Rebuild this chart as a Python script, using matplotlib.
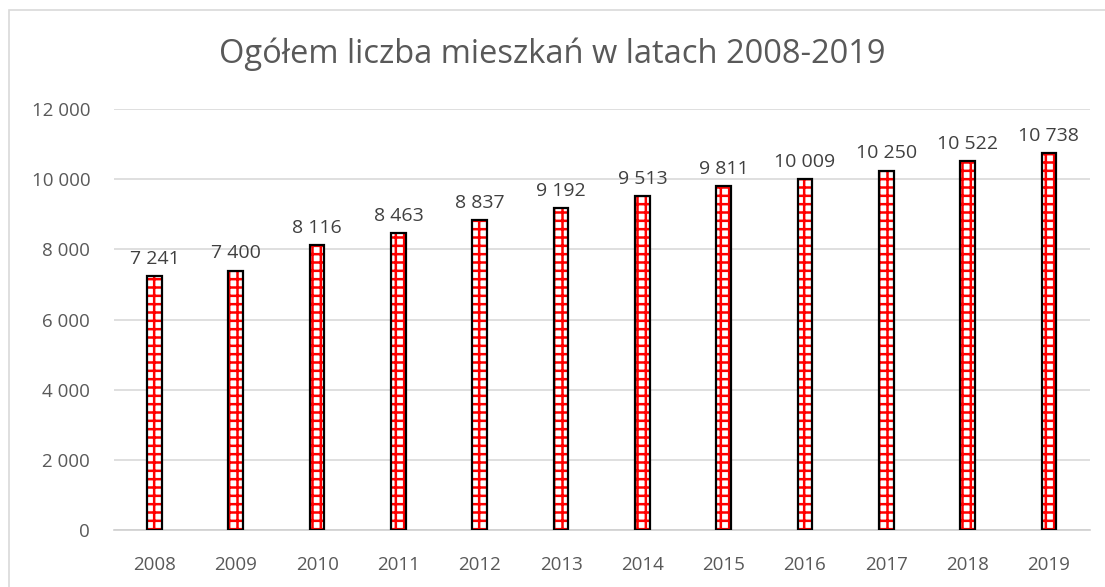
import matplotlib
matplotlib.use("Agg")
import matplotlib.pyplot as plt
from matplotlib.patches import Rectangle

years = ["2008", "2009", "2010", "2011", "2012", "2013",
         "2014", "2015", "2016", "2017", "2018", "2019"]
values = [7241, 7400, 8116, 8463, 8837, 9192, 9513, 9811, 10009, 10250, 10522, 10738]
yticks = [0, 2000, 4000, 6000, 8000, 10000, 12000]

plt.rcParams['font.family'] = ['Open Sans', 'DejaVu Sans']
plt.rcParams['hatch.linewidth'] = 1.8

def fmt(v):
    return f"{v:,}".replace(",", " ")

fig = plt.figure(figsize=(11.05, 5.87), dpi=100)
ax = fig.add_axes([0.103, 0.097, 0.883, 0.717])

x = list(range(len(years)))
# hatch layer (red) then outline (black)
ax.bar(x, values, width=0.18, color="white", edgecolor="red", hatch="++", linewidth=0, zorder=3)
ax.bar(x, values, width=0.18, color="none", edgecolor="black", linewidth=1.6, zorder=4)

for xi, v in zip(x, values):
    ax.text(xi, v + 230, fmt(v), ha="center", va="bottom", fontsize=14, color="#404040")

ax.set_xlim(-0.5, len(years) - 0.5)
ax.set_ylim(0, 12000)
ax.set_yticks(yticks)
ax.set_yticklabels([fmt(t) for t in yticks])
ax.set_xticks(x)
ax.set_xticklabels(years)
ax.tick_params(axis="both", length=0, labelsize=13.5, colors="#595959")
ax.tick_params(axis="y", pad=17)
ax.tick_params(axis="x", pad=19)
ax.grid(axis="y", color="#d9d9d9", linewidth=1.2, zorder=0)
for s in ["top", "right", "left"]:
    ax.spines[s].set_visible(False)
ax.spines["bottom"].set_color("#d0d0d0")
ax.spines["bottom"].set_linewidth(1.2)

fig.text(0.5, 0.908, "Ogółem liczba mieszkań w latach 2008-2019", ha="center", va="center",
         fontsize=23.5, color="#595959")

# chart border
fig.patches.append(Rectangle((9 / 1105, -0.1), 1.2, 1 - 10 / 587 + 0.1, transform=fig.transFigure,
                             fill=False, edgecolor="#d9d9d9", linewidth=1.2))

fig.savefig("out.png", dpi=100)
